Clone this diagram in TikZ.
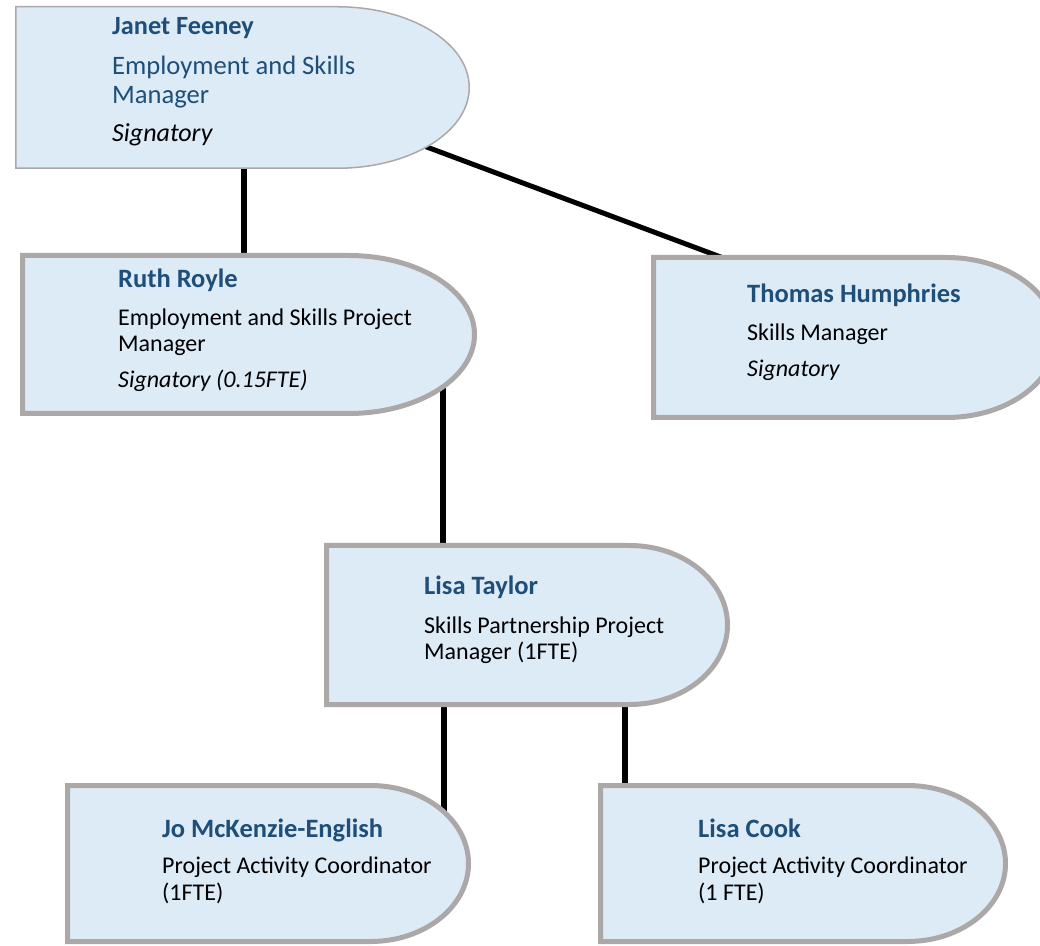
\documentclass[tikz,border=0pt]{standalone}
\usepackage{fontspec}
\setmainfont{Carlito}
\usetikzlibrary{calc}
\definecolor{boxfill}{RGB}{221,235,247}
\definecolor{boxline}{RGB}{172,168,168}
\definecolor{namecol}{RGB}{31,78,121}
\tikzset{
  boxbound/.style={draw=none,inner sep=0pt,outer sep=0pt,rectangle},
  delayshape/.style={fill=boxfill,draw=boxline,line width=5pt},
  thinshape/.style={fill=boxfill,draw=boxline,line width=1.5pt},
  conn/.style={draw=black,line width=5.5pt},
  txt/.style={inner sep=0pt,anchor=base west,font=\fontsize{24}{28}\selectfont},
  nametxt/.style={txt,text=namecol,font=\fontsize{26.5}{30}\selectfont\bfseries},
  sigtxt/.style={txt,font=\fontsize{24}{28}\selectfont\itshape},
  topname/.style={txt,text=namecol,font=\fontsize{26.3}{30}\selectfont\bfseries},
  toprole/.style={txt,text=namecol,font=\fontsize{26.6}{30}\selectfont},
  topsig/.style={txt,font=\fontsize{26}{30}\selectfont\itshape}
}
% #1 node, #2 style, #3 horizontal radius of the rounded end
\newcommand\drawdelay[3]{%
  \path[#2] let \p1=(#1.north east), \p2=(#1.south west) in
    (#1.north west) -- ([xshift=-#3]#1.north east)
    arc[start angle=90,end angle=-90,x radius=#3,y radius={(\y1-\y2)/2}]
    -- (#1.south west) -- cycle;}
\begin{document}
\begin{tikzpicture}[x=1pt,y=1pt]
\useasboundingbox (0,0) rectangle (1040,945);
\clip (0,0) rectangle (1040,945);
% box bounds
\node[boxbound,minimum width=453.5pt,minimum height=161.5pt] (jf) at (242.5,857.5) {};
\node[boxbound,minimum width=452pt,minimum height=158pt] (rr) at (248.5,610.5) {};
\node[boxbound,minimum width=403pt,minimum height=160pt] (th) at (855,607.5) {};
\node[boxbound,minimum width=401pt,minimum height=159pt] (lt) at (527,320) {};
\node[boxbound,minimum width=401pt,minimum height=156pt] (jo) at (268,81.5) {};
\node[boxbound,minimum width=405pt,minimum height=156pt] (lc) at (803,81.5) {};
% connectors (drawn first, boxes cover their ends)
\draw[conn] ([xshift=1.5pt]jf.center) -- ([xshift=-4.5pt]rr.center);
\draw[conn,line width=5pt] ([shift={(137.5pt,-42pt)}]jf.center) -- ([shift={(-95pt,65.75pt)}]th.center);
\draw[conn] ([xshift=194.5pt]rr.center) -- ([xshift=-84pt]lt.center);
\draw[conn] ([xshift=-83pt]lt.center) -- ([xshift=176pt]jo.center);
\draw[conn] ([xshift=98pt]lt.center) -- ([xshift=-178pt]lc.center);
% boxes
\drawdelay{jf}{thinshape}{132pt}
\drawdelay{rr}{delayshape}{126pt}
\drawdelay{th}{delayshape}{110pt}
\drawdelay{lt}{delayshape}{98pt}
\drawdelay{jo}{delayshape}{98pt}
\drawdelay{lc}{delayshape}{98pt}
% texts
\node[topname] (jf1) at (112,910) {Janet Feeney};
\node[toprole] (jf2) at (112,870) {Employment and Skills};
\node[toprole] (jf3) at (112,841) {Manager};
\node[topsig] (jf4) at (112,803) {Signatory};
\node[nametxt] (rr1) at (118,657) {Ruth Royle};
\node[txt] (rr2) at (118,619) {Employment and Skills Project};
\node[txt] (rr3) at (118,593) {Manager};
\node[sigtxt] (rr4) at (118,557) {Signatory (0.15FTE)};
\node[nametxt] (th1) at (747,642) {Thomas Humphries};
\node[txt] (th2) at (747,604) {Skills Manager};
\node[sigtxt] (th3) at (747,568) {Signatory};
\node[nametxt] (lt1) at (424,350) {Lisa Taylor};
\node[txt] (lt2) at (424,311) {Skills Partnership Project};
\node[txt] (lt3) at (424,285) {Manager (1FTE)};
\node[nametxt] (jo1) at (162,108) {Jo McKenzie-English};
\node[txt] (jo2) at (162,72) {Project Activity Coordinator};
\node[txt] (jo3) at (162,45) {(1FTE)};
\node[nametxt] (lc1) at (698,108) {Lisa Cook};
\node[txt] (lc2) at (698,72) {Project Activity Coordinator};
\node[txt] (lc3) at (698,45) {(1 FTE)};
\end{tikzpicture}
\end{document}
